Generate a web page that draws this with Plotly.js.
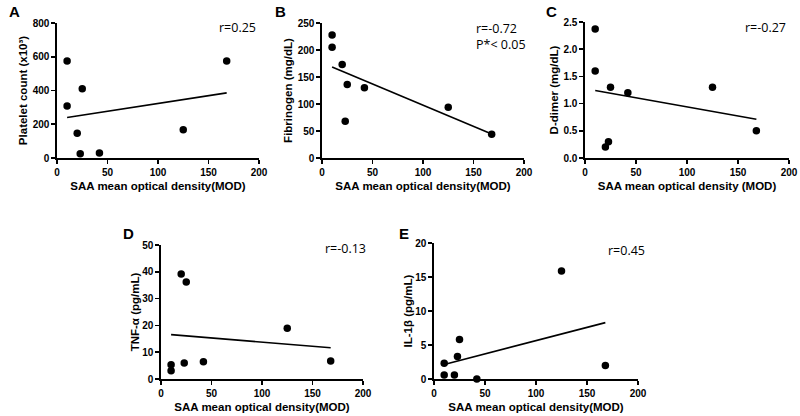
<!DOCTYPE html>
<html>
<head>
<meta charset="utf-8">
<script src="https://cdn.plot.ly/plotly-3.0.1.min.js"></script>
<style>
  html, body { margin: 0; padding: 0; background: #fff; }
  #chart { width: 800px; height: 416px; }
</style>
</head>
<body>
<div id="chart"></div>
<script>
// SAA mean optical density for the 8 patients (shared by every panel)
var saaMOD = [10, 10, 20, 23, 25, 42, 125, 168];

// per panel y values, same patient order as saaMOD
var platelet = [575, 308, 147, 25, 410, 30, 167, 575];
var fibrinogen = [228, 205, 173, 68, 136, 130, 94, 44];
var dDimer = [2.37, 1.60, 0.20, 0.30, 1.30, 1.20, 1.30, 0.50];
var tnfAlpha = [5.3, 3.1, 39.2, 6.0, 36.2, 6.4, 18.9, 6.7];
var il1Beta = [2.3, 0.6, 0.6, 3.3, 5.8, 0, 15.9, 2.0];

var panelLetters = ['A', 'B', 'C', 'D', 'E'];
var yTitles = ['Platelet count (x10³)', 'Fibrinogen (mg/dL)', 'D-dimer (mg/dL)',
               'TNF-α (pg/mL)', 'IL-1β (pg/mL)'];
var xTitles = ['SAA mean optical density(MOD)', 'SAA mean optical density(MOD)',
               'SAA mean optical density (MOD)', 'SAA mean optical density(MOD)',
               'SAA mean optical density(MOD)'];
var rLabels = ['r=0.25', 'r=-0.72<br>P*< 0.05', 'r=-0.27', 'r=-0.13', 'r=0.45'];
var yRanges = [[0, 800], [0, 250], [0, 2.5], [0, 50], [0, 20]];
var yTicks = [200, 50, 0.5, 10, 5];

var series = [platelet, fibrinogen, dDimer, tnfAlpha, il1Beta];

// least squares fit, drawn between min and max x
function fitLine(x, y) {
    var n = x.length, mx = 0, my = 0;
    for (var i = 0; i < n; i++) { mx += x[i]; my += y[i]; }
    mx /= n; my /= n;
    var sxy = 0, sxx = 0;
    for (var i = 0; i < n; i++) {
        sxy += (x[i] - mx) * (y[i] - my);
        sxx += (x[i] - mx) * (x[i] - mx);
    }
    var b = sxy / sxx;
    var x0 = Math.min.apply(null, x), x1 = Math.max.apply(null, x);
    return { x: [x0, x1], y: [my + b * (x0 - mx), my + b * (x1 - mx)] };
}

// plot boxes in pixels [left, right, top, bottom]
var boxes = [
    [57, 259, 23, 158],
    [322, 524, 23, 158],
    [585, 789, 22, 158],
    [161, 363, 245, 379],
    [434, 638, 243, 379]
];
var W = 800, H = 416;

// letter position and r-label position in pixels
var letterPos = [[7, 11], [273, 11], [544, 11], [121, 233], [397, 233]];
var rPos = [[237, 28], [501, 36], [765, 28], [345, 248], [626, 250]];
var yStandoff = [2, 2, 2, 0, 0];

var fontFam = 'Liberation Sans, Arial, sans-serif';

var data = [];
var layout = {
    width: W, height: H,
    margin: { l: 0, r: 0, t: 0, b: 0 },
    showlegend: false,
    paper_bgcolor: '#fff',
    plot_bgcolor: '#fff',
    font: { family: fontFam, color: '#000' },
    annotations: []
};

for (var p = 0; p < 5; p++) {
    var s = p === 0 ? '' : String(p + 1);
    var fit = fitLine(saaMOD, series[p]);
    data.push({
        x: saaMOD, y: series[p], xaxis: 'x' + s, yaxis: 'y' + s,
        type: 'scatter', mode: 'markers',
        marker: { color: '#000', size: 7.5 }, cliponaxis: false
    });
    data.push({
        x: fit.x, y: fit.y, xaxis: 'x' + s, yaxis: 'y' + s,
        type: 'scatter', mode: 'lines',
        line: { color: '#000', width: 1.6 }
    });

    var b = boxes[p];
    var axisCommon = {
        showgrid: false, zeroline: false, showline: true,
        linecolor: '#000', linewidth: 1.6,
        ticks: 'outside', ticklen: 4, tickwidth: 1.6, tickcolor: '#000',
        tickfont: { size: 10, family: fontFam, weight: 700 },
        fixedrange: true
    };
    layout['xaxis' + s] = Object.assign({}, axisCommon, {
        domain: [b[0] / W, b[1] / W],
        range: [0, 200], dtick: 50, tick0: 0,
        anchor: 'y' + s,
        title: { text: xTitles[p], font: { size: 11.5, family: fontFam, weight: 700 }, standoff: 5 }
    });
    layout['yaxis' + s] = Object.assign({}, axisCommon, {
        domain: [1 - b[3] / H, 1 - b[2] / H],
        range: yRanges[p], dtick: yTicks[p], tick0: 0,
        anchor: 'x' + s,
        tickformat: p === 2 ? '.1f' : '',
        title: { text: yTitles[p], font: { size: 11.5, family: fontFam, weight: 700 }, standoff: yStandoff[p] }
    });

    layout.annotations.push({
        xref: 'paper', yref: 'paper', showarrow: false,
        x: letterPos[p][0] / W, y: 1 - letterPos[p][1] / H,
        xanchor: 'left', yanchor: 'middle',
        text: panelLetters[p],
        font: { size: 15, family: fontFam, weight: 700 }
    });
    layout.annotations.push({
        xref: 'paper', yref: 'paper', showarrow: false,
        x: rPos[p][0] / W, y: 1 - rPos[p][1] / H,
        xanchor: 'center', yanchor: 'middle', align: 'left',
        text: rLabels[p],
        font: { size: 12.5, family: 'Open Sans, sans-serif' }
    });
}

Plotly.newPlot('chart', data, layout, { displayModeBar: false, staticPlot: true });
</script>
</body>
</html>
